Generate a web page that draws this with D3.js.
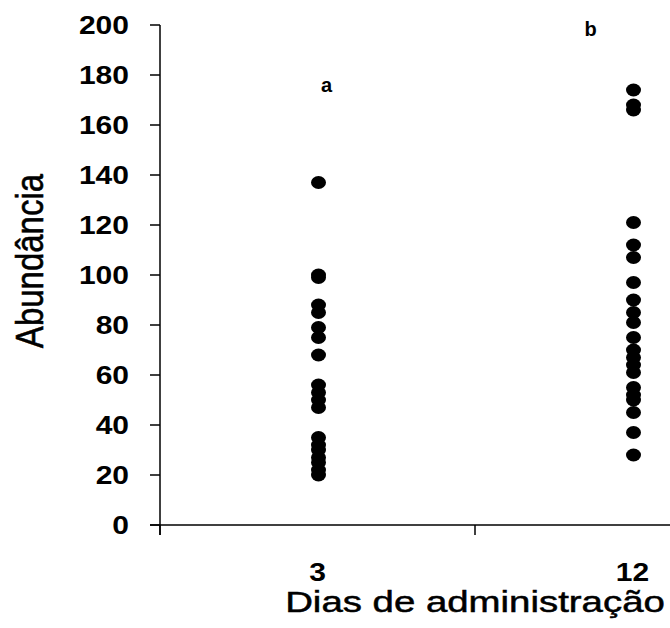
<!DOCTYPE html>
<html>
<head>
<meta charset="utf-8">
<script src="https://cdn.jsdelivr.net/npm/d3@7"></script>
<style>
  body { margin: 0; background: #fff; }
  text { font-family: "Liberation Sans", Arial, sans-serif; fill: #000; }
</style>
</head>
<body>
<div id="chart"></div>
<script>
// data
var categories = ["3", "12"];
var dias3 = [137, 100, 99, 88, 85, 79, 75, 68, 56, 53, 50, 47, 35, 32, 30, 27, 25, 22, 20];
var dias12 = [174, 168, 166, 121, 112, 107, 97, 90, 85, 81, 75, 70, 67, 64, 61, 55, 52, 50, 45, 37, 28];
var yTicks = [0, 20, 40, 60, 80, 100, 120, 140, 160, 180, 200];
var letters = ["a", "b"];

var width = 670, height = 628;

var svg = d3.select("#chart").append("svg")
    .attr("width", width)
    .attr("height", height);

var x = d3.scaleBand().domain(categories).range([160, 790]);
var y = d3.scaleLinear().domain([0, 200]).range([525, 25]);

// y axis
svg.append("line")
    .attr("x1", 160).attr("x2", 160)
    .attr("y1", y(200)).attr("y2", y(0) + 10)
    .attr("stroke", "#000").attr("stroke-width", 1.5);

svg.selectAll(".ytick").data(yTicks).enter().append("line")
    .attr("x1", 150).attr("x2", 160)
    .attr("y1", function(d) { return y(d); })
    .attr("y2", function(d) { return y(d); })
    .attr("stroke", "#000").attr("stroke-width", 1.5);

svg.selectAll(".ylab").data(yTicks).enter().append("text")
    .attr("transform", function(d) { return "translate(129," + y(d) + ") scale(1.2,1)"; })
    .attr("text-anchor", "end")
    .attr("dy", "0.36em")
    .style("font-size", "25px")
    .style("font-weight", "bold")
    .text(function(d) { return d; });

// x axis
svg.append("line")
    .attr("x1", 150).attr("x2", width)
    .attr("y1", y(0)).attr("y2", y(0))
    .attr("stroke", "#000").attr("stroke-width", 1.5);

svg.selectAll(".xtick").data(categories).enter().append("line")
    .attr("x1", function(d) { return x(d); })
    .attr("x2", function(d) { return x(d); })
    .attr("y1", y(0)).attr("y2", y(0) + 10)
    .attr("stroke", "#000").attr("stroke-width", 1.5);

svg.selectAll(".xlab").data(categories).enter().append("text")
    .attr("transform", function(d) { return "translate(" + (x(d) + x.bandwidth() / 2) + ",581) scale(1.2,1)"; })
    .attr("text-anchor", "middle")
    .style("font-size", "25px")
    .style("font-weight", "bold")
    .text(function(d) { return d; });

// points
var series = [dias3, dias12];
series.forEach(function(vals, i) {
  var cx = x(categories[i]) + x.bandwidth() / 2 + 1;
  svg.selectAll(".pt" + i).data(vals).enter().append("ellipse")
      .attr("cx", cx)
      .attr("cy", function(d) { return y(d); })
      .attr("rx", 7.5)
      .attr("ry", 6.5)
      .attr("fill", "#000");
});

// significance letters
svg.append("text")
    .attr("x", x("3") + x.bandwidth() / 2 + 9)
    .attr("y", y(176) + 7)
    .attr("text-anchor", "middle")
    .style("font-size", "20px").style("font-weight", "bold")
    .text(letters[0]);
svg.append("text")
    .attr("x", x("12") + x.bandwidth() / 2 - 42)
    .attr("y", y(199) + 8)
    .attr("text-anchor", "middle")
    .style("font-size", "20px").style("font-weight", "bold")
    .text(letters[1]);

// axis titles
svg.append("text")
    .attr("transform", "translate(475,612) scale(1.28,1)")
    .attr("text-anchor", "middle")
    .style("font-size", "30px")
    .style("stroke", "#000").style("stroke-width", 0.5)
    .text("Dias de administração");

svg.append("text")
    .attr("transform", "translate(29,261) scale(1.2,1) rotate(-90)")
    .attr("text-anchor", "middle")
    .attr("dy", "0.35em")
    .style("font-size", "33px")
    .style("stroke", "#000").style("stroke-width", 0.5)
    .text("Abundância");
</script>
</body>
</html>
